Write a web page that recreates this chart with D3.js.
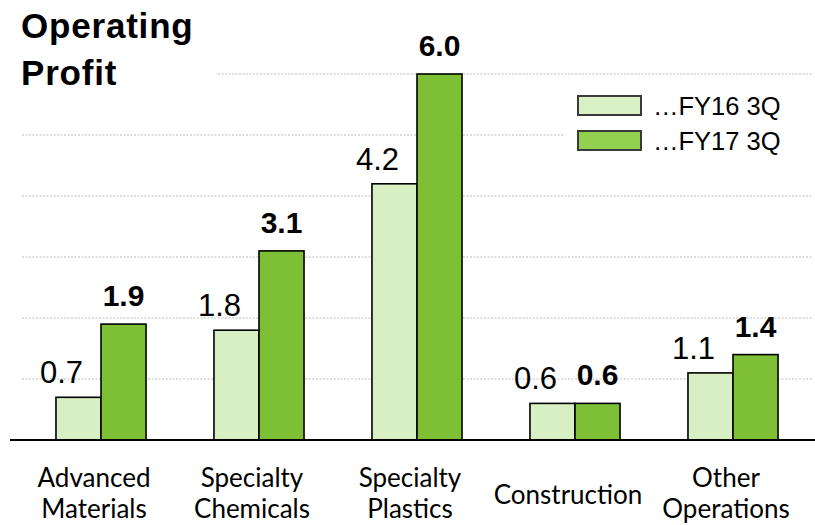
<!DOCTYPE html>
<html>
<head>
<meta charset="utf-8">
<script src="https://cdn.jsdelivr.net/npm/d3@7"></script>
<style>
  html, body { margin: 0; padding: 0; background: #fff; }
  svg { display: block; }
</style>
</head>
<body>
<svg id="chart" width="815" height="525"></svg>
<script>
// Operating profit by segment, FY16 3Q vs FY17 3Q
const categories = [
  ["Advanced", "Materials"],
  ["Specialty", "Chemicals"],
  ["Specialty", "Plastics"],
  ["Construction"],
  ["Other", "Operations"]
];
const seriesNames = ["…FY16 3Q", "…FY17 3Q"];
const fy16 = [0.7, 1.8, 4.2, 0.6, 1.1];
const fy17 = [1.9, 3.1, 6.0, 0.6, 1.4];
const gridTicks = [1, 2, 3, 4, 5, 6];
const titleLines = ["Operating", "Profit"];

const barColors = ["#d8efc3", "#7dc036"];
const legendColors = ["#d9f0c5", "#92d050"];

const svg = d3.select("#chart");
const W = 815;
const baseY = 440;

const catKeys = categories.map(c => c.join(" "));
const x0 = d3.scaleBand().domain(catKeys).range([22, 812])
  .paddingInner(0.43).paddingOuter(0.215);
const x1 = d3.scaleBand().domain([0, 1]).range([0, x0.bandwidth()]);
const y = d3.scaleLinear().domain([0, 6]).range([baseY, 74]);

// dotted gridlines
svg.append("g").selectAll("line").data(gridTicks).join("line")
  .attr("x1", 22).attr("x2", 812)
  .attr("y1", d => y(d)).attr("y2", d => y(d))
  .attr("stroke", "#bdbdbd").attr("stroke-width", 1.2)
  .attr("stroke-dasharray", "2,1.5");

// title block sits over the top gridline
svg.append("rect").attr("x", 0).attr("y", 0).attr("width", 216).attr("height", 95).attr("fill", "#fff");
svg.append("g").selectAll("text").data(titleLines).join("text")
  .attr("x", 21).attr("y", (d, i) => 38 + i * 47)
  .attr("font-family", "Liberation Sans, Arial, sans-serif")
  .attr("font-weight", "bold").attr("font-size", 35)
  .attr("letter-spacing", 0.8)
  .attr("fill", "#000").text(d => d);

// bars
const rows = catKeys.map((k, i) => ({ key: k, vals: [fy16[i], fy17[i]] }));
const groups = svg.append("g").selectAll("g").data(rows).join("g")
  .attr("transform", d => `translate(${x0(d.key)},0)`);

groups.selectAll("rect").data(d => d.vals.map((v, s) => ({ v, s }))).join("rect")
  .attr("x", d => x1(d.s))
  .attr("y", d => y(d.v))
  .attr("width", x1.bandwidth())
  .attr("height", d => baseY - y(d.v))
  .attr("fill", d => barColors[d.s])
  .attr("stroke", "#000").attr("stroke-width", 1.6);

// value labels
groups.selectAll("text").data(d => d.vals.map((v, s) => ({ v, s }))).join("text")
  .attr("x", d => x1(d.s) + x1.bandwidth() / 2 + (d.s === 0 ? -17 : 0))
  .attr("y", d => y(d.v) - (d.s === 0 ? 14 : 18))
  .attr("text-anchor", "middle")
  .attr("font-family", "Liberation Sans, Arial, sans-serif")
  .attr("font-size", d => d.s === 0 ? 31 : 30)
  .attr("font-weight", d => d.s === 0 ? "normal" : "bold")
  .attr("fill", "#000")
  .text(d => d3.format(".1f")(d.v));

// baseline axis
svg.append("line").attr("x1", 10).attr("x2", W).attr("y1", baseY).attr("y2", baseY)
  .attr("stroke", "#000").attr("stroke-width", 2);

// category labels
const catG = svg.append("g").selectAll("text").data(categories).join("text")
  .attr("text-anchor", "middle")
  .attr("font-family", "Lato, 'Open Sans', sans-serif")
  .attr("font-size", 26)
  .attr("fill", "#000");
catG.each(function (lines, i) {
  const cx = x0(catKeys[i]) + x0.bandwidth() / 2 - 7;
  const t = d3.select(this);
  const startY = lines.length === 1 ? 504 : 487;
  lines.forEach((ln, j) => {
    t.append("tspan").attr("x", cx).attr("y", startY + j * 31).text(ln);
  });
});

// legend
const leg = svg.append("g");
leg.append("rect").attr("x", 565).attr("y", 86).attr("width", 250).attr("height", 78).attr("fill", "#fff");
const legRows = leg.selectAll("g").data(seriesNames).join("g")
  .attr("transform", (d, i) => `translate(578,${96 + i * 35})`);
legRows.append("rect").attr("width", 63).attr("height", 19)
  .attr("fill", (d, i) => legendColors[i])
  .attr("stroke", "#3a3a3a").attr("stroke-width", 2);
legRows.append("text").attr("x", 75).attr("y", 19)
  .attr("font-family", "Liberation Sans, Arial, sans-serif")
  .attr("font-size", 25.5)
  .attr("fill", "#000").text(d => d);
</script>
</body>
</html>
